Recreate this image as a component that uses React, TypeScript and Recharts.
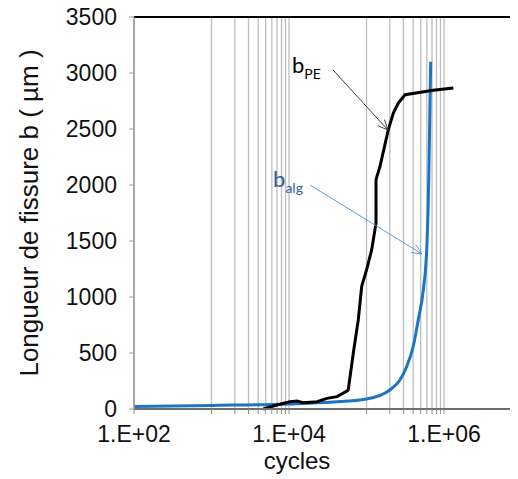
import React from "react";
import {
  LineChart,
  Line,
  XAxis,
  YAxis,
  CartesianGrid,
  ReferenceLine,
} from "recharts";

// b_PE (black) : cycles / crack length (µm)
const peCycles = [
  4660, 6930, 10300, 12700, 15200, 23000, 30900, 41600, 56000, 58200, 67600,
  78400, 86700, 100400, 116700, 132700, 132700, 149400, 191300, 222000, 257400,
  314300, 727000, 1318000,
];
const peLength = [
  0, 36, 65, 71, 56, 65, 95, 110, 160, 173, 500, 798, 1095, 1244, 1423, 1661,
  2048, 2167, 2494, 2643, 2732, 2806, 2845, 2866,
];

// b_alg (blue)
const algCycles = [
  100, 1000, 10000, 37500, 100000, 200000, 270000, 330000, 400000, 466000,
  541000, 598000, 625000, 640000, 673000,
];
const algLength = [
  22, 32, 45, 62, 89, 170, 259, 380, 556, 798, 1065, 1423, 1800, 2167, 3100,
];

const xLabelTicks = [100, 10000, 1000000];
const xGridTicks = [
  1000, 2000, 3000, 4000, 5000, 6000, 7000, 8000, 9000, 10000, 100000, 200000,
  300000, 400000, 500000, 600000, 700000, 800000, 900000, 1000000,
];
const yTicks = [0, 500, 1000, 1500, 2000, 2500, 3000, 3500];

const peData = peCycles.map((x, i) => ({ x, y: peLength[i] }));
const algData = algCycles.map((x, i) => ({ x, y: algLength[i] }));
const xTicks = [100, ...xGridTicks];

const axisFont = '"Liberation Sans", Arial, sans-serif';
const noteFont = 'Lato, "Open Sans", sans-serif';

const fmtExp = (v: number) => {
  if (!xLabelTicks.includes(v)) return "";
  const e = Math.round(Math.log10(v));
  return `1.E+${String(e).padStart(2, "0")}`;
};

// arrow + "b_sub" note, text placed relative to the arrow's start
function arrowShape(
  color: string,
  textColor: string,
  sub: string,
  dx: number,
  dy: number
) {
  return (props: any) => {
    const { x1, y1, x2, y2 } = props;
    const a = Math.atan2(y2 - y1, x2 - x1);
    const len = 11;
    const spread = 0.42;
    const ax = x2 - len * Math.cos(a - spread);
    const ay = y2 - len * Math.sin(a - spread);
    const bx = x2 - len * Math.cos(a + spread);
    const by = y2 - len * Math.sin(a + spread);
    return (
      <g>
        <line x1={x1} y1={y1} x2={x2} y2={y2} stroke={color} strokeWidth={1} />
        <polyline
          points={`${ax},${ay} ${x2},${y2} ${bx},${by}`}
          fill="none"
          stroke={color}
          strokeWidth={1}
        />
        <text x={x1 + dx} y={y1 + dy} fontFamily={noteFont} fill={textColor}>
          <tspan fontSize={22}>b</tspan>
          <tspan fontSize={14} dy={6}>
            {sub}
          </tspan>
        </text>
      </g>
    );
  };
}

export default function App() {
  return (
    <div
      style={{
        width: 518,
        height: 479,
        overflow: "hidden",
        marginTop: -8,
        marginLeft: -8,
      }}
    >
      <LineChart
        width={530}
        height={478}
        margin={{ top: 17, right: 8.5, left: 0, bottom: 9 }}
      >
        <CartesianGrid
          horizontal={false}
          stroke="#bdbdbd"
          strokeWidth={1.3}
        />
        <XAxis
          dataKey="x"
          type="number"
          scale="log"
          domain={[100, 10000000]}
          allowDataOverflow
          ticks={xTicks}
          interval={0}
          tickFormatter={fmtExp}
          height={60}
          tickSize={5}
          tickMargin={12}
          axisLine={{ stroke: "#6e6e6e", strokeWidth: 2 }}
          tickLine={{ stroke: "#8c8c8c" }}
          tick={{ fill: "#111", fontSize: 23, fontFamily: axisFont }}
          label={{
            content: () => (
              <text
                x={297}
                y={469}
                textAnchor="middle"
                fontSize={24}
                fontFamily={axisFont}
                fill="#111"
              >
                cycles
              </text>
            ),
          }}
        />
        <YAxis
          type="number"
          domain={[0, 3500]}
          ticks={yTicks}
          interval={0}
          width={134}
          tickSize={5}
          tickMargin={12}
          axisLine={{ stroke: "#9a9a9a", strokeWidth: 1.5 }}
          tickLine={{ stroke: "#9a9a9a" }}
          tick={{ fill: "#111", fontSize: 23, fontFamily: axisFont }}
          label={{
            content: () => (
              <text
                x={29}
                y={213}
                transform="rotate(-90 29 213)"
                textAnchor="middle"
                dominantBaseline="central"
                fontSize={26}
                fontFamily={axisFont}
                fill="#111"
              >
                Longueur de fissure b ( µm )
              </text>
            ),
          }}
        />
        <ReferenceLine y={3500} stroke="#000" strokeWidth={2} />
        <Line
          data={algData}
          dataKey="y"
          type="monotone"
          stroke="#1a75c4"
          strokeWidth={3}
          dot={false}
          isAnimationActive={false}
        />
        <Line
          data={peData}
          dataKey="y"
          type="linear"
          stroke="#000"
          strokeWidth={3}
          dot={false}
          isAnimationActive={false}
        />
        <ReferenceLine
          segment={[
            { x: 37000, y: 3027 },
            { x: 189000, y: 2491 },
          ]}
          shape={arrowShape("#404040", "#000", "PE", -41, 3)}
        />
        <ReferenceLine
          segment={[
            { x: 18700, y: 2000 },
            { x: 520000, y: 1384 },
          ]}
          shape={arrowShape("#5b9bd5", "#2e5e9e", "alg", -37, 2)}
        />
      </LineChart>
    </div>
  );
}
